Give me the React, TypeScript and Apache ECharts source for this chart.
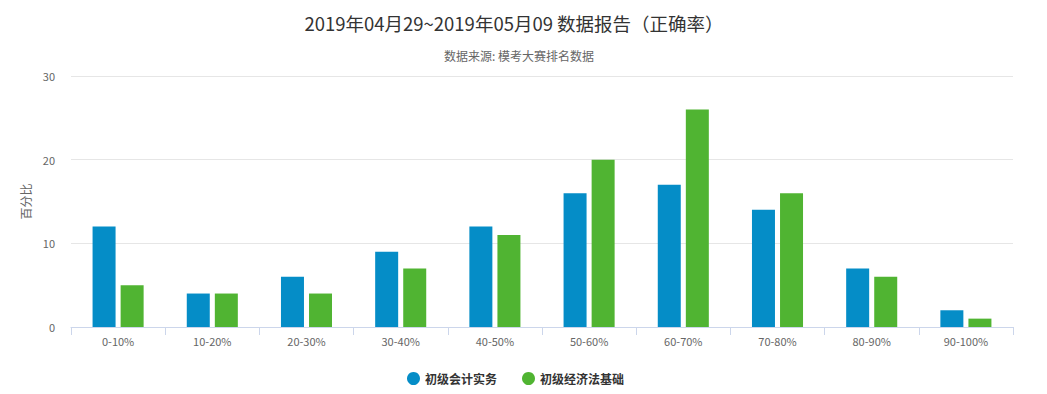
import React, { useEffect, useRef } from "react";
import * as echarts from "echarts";

const categories = ["0-10%", "10-20%", "20-30%", "30-40%", "40-50%", "50-60%", "60-70%", "70-80%", "80-90%", "90-100%"];
const seriesNames = ["初级会计实务", "初级经济法基础"];
const accountingValues = [12, 4, 6, 9, 12, 16, 17, 14, 7, 2];
const lawValues = [5, 4, 4, 7, 11, 20, 26, 16, 6, 1];
const titleText = "2019年04月29~2019年05月09 数据报告（正确率）";
const subtitleText = "数据来源: 模考大赛排名数据";
const yAxisName = "百分比";

const FONT = '"Noto Sans CJK SC", "Open Sans", sans-serif';

export default function App() {
  const ref = useRef<HTMLDivElement>(null);
  useEffect(() => {
    document.body.style.margin = "0";
    const chart = echarts.init(ref.current!, null, { renderer: "svg" });
    chart.setOption({
      animation: false,
      textStyle: { fontFamily: FONT },
      title: [
        {
          text: titleText,
          left: 509,
          top: 9,
          textAlign: "center",
          textStyle: { fontSize: 18.5, fontWeight: "normal", color: "#333333", fontFamily: FONT },
        },
        {
          text: subtitleText,
          left: 514,
          top: 44,
          textAlign: "center",
          textStyle: { fontSize: 12, fontWeight: "normal", color: "#666666", fontFamily: FONT },
        },
      ],
      legend: {
        data: seriesNames,
        left: 402,
        top: 367,
        icon: "circle",
        itemWidth: 13,
        itemHeight: 13,
        itemGap: 25,
        textStyle: { fontSize: 12, fontWeight: "bold", color: "#333333", fontFamily: FONT },
      },
      grid: { left: 71, right: 34, top: 76, bottom: 67, containLabel: false },
      xAxis: {
        type: "category",
        data: categories,
        axisLine: { lineStyle: { color: "#ccd6eb" } },
        axisTick: { show: true, alignWithLabel: false, length: 8, lineStyle: { color: "#ccd6eb" } },
        axisLabel: { color: "#666666", fontSize: 11, margin: 8, fontFamily: FONT },
      },
      yAxis: {
        type: "value",
        min: 0,
        max: 30,
        interval: 10,
        name: yAxisName,
        nameLocation: "middle",
        nameGap: 38,
        nameRotate: 90,
        nameTextStyle: { color: "#666666", fontSize: 12, fontFamily: FONT },
        axisLine: { show: false },
        axisTick: { show: false },
        axisLabel: { color: "#666666", fontSize: 11, margin: 16, fontFamily: FONT },
        splitLine: { lineStyle: { color: "#e6e6e6" } },
      },
      series: [
        {
          name: seriesNames[0],
          type: "bar",
          data: accountingValues,
          itemStyle: { color: "#058DC7" },
          barWidth: 23,
          barGap: "22%",
        },
        {
          name: seriesNames[1],
          type: "bar",
          data: lawValues,
          itemStyle: { color: "#50B432" },
          barWidth: 23,
          barGap: "22%",
        },
      ],
    });
    return () => chart.dispose();
  }, []);
  return <div ref={ref} style={{ width: 1047, height: 394 }} />;
}
